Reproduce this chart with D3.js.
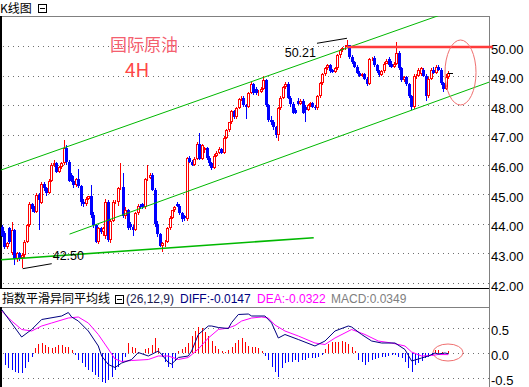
<!DOCTYPE html>
<html lang="zh">
<head>
<meta charset="UTF-8">
<title>国际原油 4H</title>
<script src="https://d3js.org/d3.v7.min.js"></script>
<style>
  body { margin: 0; background: #fff; }
  svg { display: block; font-family: "Liberation Sans", Arial, sans-serif; }
  .cjk { font-family: "Noto Sans CJK SC", sans-serif; }
</style>
</head>
<body>
<svg width="529" height="387"></svg>
<script>
// 4H candles: [open, high, low, close]
const candles = [
  [43.88,43.95,43.55,43.58],[43.70,43.75,43.15,43.22],[43.22,43.40,43.15,43.35],[43.84,43.88,43.30,43.37],
  [43.00,44.05,42.95,43.80],[43.80,43.82,42.62,42.80],[42.80,43.05,42.70,43.00],[43.00,43.05,42.75,42.85],
  [42.85,43.00,42.50,42.95],[42.95,43.45,42.85,43.40],[43.40,44.00,43.35,43.95],[43.95,44.75,43.90,44.65],
  [44.65,44.70,44.40,44.50],[44.52,44.60,44.35,44.40],[44.40,45.05,44.35,44.98],[44.98,45.05,43.80,44.80],
  [44.70,45.40,44.65,45.35],[45.35,45.40,45.10,45.20],[45.20,45.25,44.95,45.05],[45.05,45.50,45.00,45.45],
  [45.45,46.05,45.40,45.98],[45.98,46.15,45.90,46.05],[46.05,46.10,45.70,45.75],[45.75,45.95,45.70,45.90],
  [45.90,46.10,45.85,46.05],[46.05,46.82,46.00,46.55],[46.55,46.65,46.00,46.10],[46.10,46.15,45.40,45.45],
  [45.65,45.70,45.40,45.45],[45.45,45.60,45.20,45.30],[45.30,45.55,45.25,45.50],[45.50,45.85,45.20,45.28],
  [45.28,45.30,44.60,44.75],[44.75,44.85,44.55,44.65],[44.65,44.90,44.60,44.85],[44.85,44.95,44.80,44.92],
  [44.92,45.30,44.20,44.30],[44.30,44.40,43.85,43.95],[43.95,44.00,43.35,43.40],[43.40,43.90,43.30,43.85],
  [43.85,43.90,43.65,43.72],[43.72,43.90,43.60,43.85],[43.60,44.85,43.50,44.75],[44.75,44.80,43.40,43.45],
  [43.45,44.15,43.35,44.10],[44.10,44.80,44.05,44.75],[44.70,44.80,44.65,44.75],[44.75,45.25,44.60,45.20],
  [45.20,46.05,45.15,45.25],[45.25,45.70,44.20,44.25],[44.25,44.55,44.15,44.45],[44.45,44.50,43.80,43.85],
  [44.00,44.05,43.80,43.88],[43.88,43.95,43.60,43.80],[43.80,44.40,43.75,44.35],[44.35,44.65,44.30,44.60],
  [44.60,44.65,44.50,44.55],[44.65,44.70,44.50,44.55],[44.55,45.55,44.50,45.50],[45.50,45.97,45.45,45.56],
  [45.56,45.70,45.50,45.65],[45.65,45.70,45.10,45.15],[45.15,45.20,43.90,44.00],[44.00,44.10,43.55,43.65],
  [43.65,43.70,43.20,43.25],[43.25,43.40,43.04,43.35],[43.35,43.45,43.20,43.40],[43.40,43.88,43.35,43.84],
  [43.84,44.25,43.80,44.20],[44.20,44.48,44.15,44.45],[44.45,44.60,44.40,44.55],[44.65,44.75,44.55,44.60],
  [44.60,44.65,44.30,44.35],[44.35,44.40,44.05,44.15],[44.25,44.30,44.10,44.18],[44.15,46.25,44.10,46.22],
  [46.22,46.30,46.05,46.10],[46.10,46.15,45.95,46.00],[46.00,46.25,45.95,46.20],[46.20,46.75,46.15,46.70],
  [46.70,47.05,46.15,46.20],[46.20,46.70,46.15,46.65],[46.50,46.60,46.40,46.55],[46.55,46.60,46.15,46.22],
  [46.22,46.30,45.95,46.05],[46.05,46.10,45.80,45.88],[45.88,46.35,45.85,46.30],[46.30,46.45,46.25,46.40],
  [46.40,46.58,46.35,46.52],[46.52,46.55,46.35,46.40],[46.40,46.95,46.35,46.90],[46.90,47.20,46.85,47.15],
  [47.15,47.45,47.10,47.42],[47.42,47.85,47.38,47.80],[47.80,47.85,47.55,47.60],[47.60,47.95,47.55,47.92],
  [47.92,48.25,47.88,48.22],[48.22,48.30,48.15,48.25],[48.25,48.30,47.95,48.00],[48.00,48.05,47.55,47.95],
  [47.95,48.45,47.90,48.42],[48.42,48.80,48.38,48.72],[48.72,48.75,48.35,48.40],[48.55,48.60,48.35,48.40],
  [48.40,48.50,48.30,48.45],[48.45,48.60,48.40,48.55],[48.55,49.00,48.50,48.85],[48.85,48.90,47.95,48.00],
  [48.00,48.05,47.45,47.50],[47.50,47.65,47.35,47.42],[47.42,47.50,47.15,47.25],[47.25,47.30,46.90,46.98],
  [46.98,47.95,46.78,47.90],[47.90,48.30,47.85,48.25],[48.25,48.65,48.20,48.60],[48.60,48.78,48.55,48.72],
  [48.72,48.80,48.20,48.25],[48.25,48.30,47.95,48.05],[48.05,48.10,47.70,47.75],[47.85,47.90,47.70,47.75],
  [48.15,48.25,48.00,48.05],[48.05,48.20,48.00,48.15],[48.15,48.20,47.70,47.75],[47.95,48.00,47.45,47.85],
  [47.85,48.05,47.80,48.00],[48.00,48.10,47.95,48.08],[48.08,48.12,47.90,47.95],[47.95,48.00,47.85,47.90],
  [47.90,48.35,47.85,48.30],[48.30,48.78,48.25,48.75],[48.75,49.10,48.70,49.05],[49.05,49.30,49.00,49.25],
  [49.25,49.40,49.20,49.35],[49.35,49.38,49.10,49.15],[49.18,49.22,49.10,49.12],[49.12,49.30,49.08,49.25],
  [49.25,49.72,49.20,49.68],[49.68,49.90,49.60,49.85],[49.85,49.95,49.80,49.92],[49.92,50.02,49.88,49.98],
  [49.98,50.21,49.95,50.02],[50.02,50.05,49.55,49.62],[49.62,49.68,49.40,49.45],[49.45,49.50,49.25,49.30],
  [49.30,49.35,49.05,49.10],[49.10,49.15,48.95,49.00],[49.00,49.08,48.95,49.05],[49.05,49.08,48.85,48.90],
  [48.90,48.95,48.65,48.72],[48.72,49.60,48.70,49.55],[49.55,49.62,49.48,49.58],[49.60,49.65,49.30,49.35],
  [49.35,49.40,49.10,49.15],[49.15,49.20,48.95,49.02],[49.02,49.18,48.98,49.15],[49.15,49.45,49.10,49.40],
  [49.40,49.55,49.38,49.48],[49.55,49.62,49.30,49.35],[49.40,49.50,49.25,49.30],[49.30,49.45,49.25,49.40],
  [49.40,50.13,49.35,49.78],[49.78,49.82,49.20,49.25],[49.25,49.30,48.80,48.85],[48.85,49.00,48.80,48.95],
  [48.95,49.00,48.65,48.72],[48.72,48.75,48.25,48.30],[48.30,48.35,47.85,47.95],[47.95,49.05,47.88,49.00],
  [48.95,49.05,48.90,49.00],[49.00,49.25,48.95,49.20],[49.05,49.30,49.00,49.25],[49.20,49.25,48.95,49.00],
  [49.00,49.05,48.15,48.30],[48.30,48.95,48.25,48.90],[48.90,49.25,48.85,49.20],[49.20,49.30,49.05,49.10],
  [49.10,49.35,49.05,49.30],[49.30,49.35,49.15,49.20],[49.20,49.25,48.70,48.75],[48.75,48.80,48.45,48.55],
  [48.55,49.05,48.50,48.95],[48.95,49.15,48.90,49.08]
];
const priceTicks = [42, 43, 44, 45, 46, 47, 48, 49, 50];

// MACD histogram, one bar each
const macdHist = [
  -0.23,-0.30,-0.33,-0.37,-0.40,-0.40,-0.30,-0.17,-0.07,
  0.10,0.18,0.20,0.17,0.13,0.10,0.13,0.17,0.17,0.13,0.13,0.07,
  -0.03,-0.13,-0.20,-0.27,-0.33,-0.37,-0.43,-0.47,-0.57,-0.60,-0.53,-0.47,-0.33,-0.27,-0.17,-0.07,
  0.20,0.13,0.10,0.03,0.01,0.08,0.10,0.17,0.31,0.10,
  -0.07,-0.17,-0.27,-0.30,-0.15,
  0.05,0.08,0.12,0.20,0.35,0.45,0.52,0.50,0.43,0.35,0.25,0.15,0.08,0.05,0.03,
  0.07,0.13,0.20,0.27,0.30,0.23,0.15,0.12,0.12,0.10,0.05,
  -0.05,
  -0.13,-0.27,-0.37,-0.47,-0.30,-0.20,-0.17,-0.17,-0.13,-0.17,-0.13,-0.13,-0.10,-0.10,-0.10,-0.07,-0.03,
  0.08,0.18,0.22,0.23,0.23,0.25,0.22,0.18,0.13,0.05,
  -0.13,-0.17,-0.23,-0.17,-0.13,-0.11,-0.10,-0.07,-0.07,-0.05,-0.03,-0.03,-0.07,-0.10,
  -0.17,-0.30,-0.37,-0.23,-0.20,-0.15,-0.10,-0.07,-0.04,
  0.07,0.07,0.03,0.01,0.035
];
// [bar index, value]
const diffPts = [
  [-1,0.87],[5,0.32],[8,0.47],[11,0.67],[17,0.74],[19,0.81],[20,0.72],[22,0.64],[25,0.44],[28,0.14],
  [29,-0.06],[31,-0.23],[33,-0.29],[35,-0.20],[38,-0.13],[40,0.01],[43,-0.06],[46,0.04],[47,-0.03],
  [49,-0.19],[50,-0.22],[52,-0.09],[55,-0.06],[56,0.04],[58,0.37],[61,0.54],[62,0.54],[64,0.51],
  [67,0.49],[68,0.61],[70,0.77],[73,0.78],[74,0.74],[78,0.74],[80,0.60],[82,0.30],[84,0.37],[88,0.27],
  [93,0.14],[96,0.24],[99,0.44],[103,0.54],[104,0.52],[107,0.37],[110,0.24],[113,0.20],[117,0.20],
  [120,0.07],[122,-0.16],[125,-0.10],[127,-0.06],[129,0.00],[130,-0.02],[132,0.00],[133,-0.0147]
];
const deaPts = [
  [-1,0.84],[2,0.64],[5,0.47],[8,0.44],[11,0.54],[14,0.60],[19,0.70],[22,0.72],[25,0.60],[28,0.37],
  [31,0.08],[33,-0.12],[35,-0.17],[38,-0.15],[43,-0.13],[46,-0.06],[49,-0.06],[52,-0.13],[55,-0.09],
  [58,0.08],[61,0.30],[64,0.47],[67,0.50],[69,0.55],[71,0.64],[74,0.70],[77,0.72],[79,0.70],[81,0.56],
  [84,0.44],[88,0.34],[93,0.20],[96,0.17],[99,0.30],[104,0.47],[108,0.37],[112,0.24],[116,0.20],
  [120,0.14],[122,0.02],[125,-0.06],[128,-0.05],[130,-0.03],[133,-0.0322]
];
const macdTicks = [0.5, 0.0, -0.5];

// trend lines: [candle index, price]
const upperChannel = [[-1.2, 45.79], [178, 51.05]];
const lowerChannel = [[27.4, 43.65], [199, 48.82]];
const supportLine = [[-1.2, 42.78], [126.5, 43.53]];
const resistStart = 140, resistPrice = 50.0;

const svg = d3.select("svg");
const axisX = 489, mainTop = 16, mainBot = 288, macdTop = 307;

const x = d3.scaleLinear().domain([0, candles.length - 1]).range([2, 448]);
const y = d3.scaleLinear().domain([42, 50]).range([283, 46]);
const xh = d3.scaleLinear().domain([0, macdHist.length - 1]).range([5, 448.3]);
const ym = d3.scaleLinear().domain([-0.5, 0.5]).range([378, 328]);

const RED = "#ff0000", BLUE = "#0000ff", GREEN = "#00b800";

svg.append("defs").append("clipPath").attr("id", "mainClip")
  .append("rect").attr("x", 1).attr("y", mainTop).attr("width", axisX - 1).attr("height", mainBot - mainTop);
svg.select("defs").append("clipPath").attr("id", "macdClip")
  .append("rect").attr("x", 1).attr("y", macdTop).attr("width", axisX - 1).attr("height", 387 - macdTop);

// frame
const frame = svg.append("g").attr("shape-rendering", "crispEdges");
frame.append("line").attr("x1", 0).attr("x2", axisX).attr("y1", mainTop + 0.5).attr("y2", mainTop + 0.5)
  .attr("stroke", "#808080").attr("stroke-width", 1.5);
frame.append("line").attr("x1", axisX + 0.5).attr("x2", axisX + 0.5).attr("y1", mainTop).attr("y2", 387)
  .attr("stroke", "#808080");
frame.append("line").attr("x1", 1).attr("x2", 1).attr("y1", mainTop).attr("y2", mainBot)
  .attr("stroke", "#000").attr("stroke-width", 2);
frame.append("line").attr("x1", 0).attr("x2", axisX).attr("y1", mainBot + 0.5).attr("y2", mainBot + 0.5)
  .attr("stroke", "#000");
frame.append("line").attr("x1", 0).attr("x2", axisX).attr("y1", macdTop + 0.5).attr("y2", macdTop + 0.5)
  .attr("stroke", "#808080");
frame.append("line").attr("x1", 1).attr("x2", 1).attr("y1", macdTop).attr("y2", 387)
  .attr("stroke", "#000").attr("stroke-width", 2);

// grids
const grid = svg.append("g").attr("shape-rendering", "crispEdges")
  .attr("stroke", "#707070").attr("stroke-dasharray", "1,4");
grid.selectAll("line.p").data(priceTicks).join("line").attr("class", "p")
  .attr("x1", 3).attr("x2", axisX)
  .attr("y1", d => Math.round(y(d)) + 0.5).attr("y2", d => Math.round(y(d)) + 0.5);
grid.selectAll("line.m").data(macdTicks).join("line").attr("class", "m")
  .attr("x1", 3).attr("x2", axisX)
  .attr("y1", d => Math.round(ym(d)) + 0.5).attr("y2", d => Math.round(ym(d)) + 0.5);

// axis labels
svg.append("g").selectAll("text").data(priceTicks).join("text")
  .attr("x", axisX + 2).attr("y", d => y(d) + 7.5)
  .attr("font-size", 13).attr("fill", "#000")
  .text(d => d.toFixed(2));
svg.append("g").selectAll("text").data(macdTicks).join("text")
  .attr("x", axisX + 2).attr("y", d => ym(d) + 7)
  .attr("font-size", 13).attr("fill", "#000")
  .text(d => d.toFixed(1));

// candles
const cg = svg.append("g").attr("shape-rendering", "crispEdges").attr("clip-path", "url(#mainClip)");
candles.forEach((d, i) => {
  const [o, h, l, c] = d;
  const up = c >= o;
  const col = up ? RED : BLUE;
  const px = Math.round(x(i));
  cg.append("line").attr("x1", px + 0.5).attr("x2", px + 0.5)
    .attr("y1", y(h)).attr("y2", y(l)).attr("stroke", col);
  const top = Math.round(y(Math.max(o, c)));
  const bh = Math.max(1, Math.round(y(Math.min(o, c))) - top);
  if (up) {
    cg.append("rect").attr("x", px - 0.5).attr("y", top + 0.5)
      .attr("width", 2).attr("height", Math.max(bh - 1, 0))
      .attr("fill", "#fff").attr("stroke", col);
  } else {
    cg.append("rect").attr("x", px - 1).attr("y", top)
      .attr("width", 3).attr("height", bh).attr("fill", col);
  }
});

// trend lines
const tl = svg.append("g").attr("clip-path", "url(#mainClip)");
const lineXY = d3.line().x(d => x(d[0])).y(d => y(d[1]));
tl.append("path").attr("d", lineXY(upperChannel)).attr("stroke", GREEN).attr("fill", "none");
tl.append("path").attr("d", lineXY(lowerChannel)).attr("stroke", GREEN).attr("fill", "none");
tl.append("path").attr("d", lineXY(supportLine)).attr("stroke", GREEN).attr("stroke-width", 1.6).attr("fill", "none");
svg.append("line").attr("x1", x(resistStart)).attr("x2", axisX + 4)
  .attr("y1", y(resistPrice) + 1).attr("y2", y(resistPrice) + 1)
  .attr("stroke", "#ff3b3b").attr("stroke-width", 2.5);

// high / low marks
const hi = d3.maxIndex(candles, d => d[1]);
const lo = d3.minIndex(candles, d => d[2]);
const hx = x(hi), hy = y(candles[hi][1]);
const lx = x(lo), ly = y(candles[lo][2]);
svg.append("line").attr("x1", hx - 30).attr("y1", hy + 3.5).attr("x2", hx).attr("y2", hy - 1.5)
  .attr("stroke", "#000");
svg.append("text").attr("x", hx - 31).attr("y", hy + 17).attr("text-anchor", "end")
  .attr("font-size", 12.5).attr("fill", "#000").text(candles[hi][1].toFixed(2));
svg.append("line").attr("x1", lx + 1).attr("y1", ly + 0.5).attr("x2", lx + 30).attr("y2", ly - 4.5)
  .attr("stroke", "#000");
svg.append("text").attr("x", lx + 31).attr("y", ly - 8)
  .attr("font-size", 12.5).attr("fill", "#000").text(candles[lo][2].toFixed(2));

// last price tick
const last = candles[candles.length - 1];
svg.append("line").attr("x1", x(candles.length - 1)).attr("x2", x(candles.length - 1) + 5)
  .attr("y1", Math.round(y(last[3])) + 0.5).attr("y2", Math.round(y(last[3])) + 0.5)
  .attr("stroke", "#000").attr("shape-rendering", "crispEdges");

// marker ellipses
svg.append("ellipse").attr("cx", 460.5).attr("cy", 72.5).attr("rx", 15.5).attr("ry", 32.5)
  .attr("fill", "none").attr("stroke", "#f07070");
svg.append("ellipse").attr("cx", 448).attr("cy", 352.5).attr("rx", 15).attr("ry", 8.5)
  .attr("fill", "none").attr("stroke", "#f07070");

// MACD
const mg = svg.append("g").attr("clip-path", "url(#macdClip)");
mg.append("g").attr("shape-rendering", "crispEdges").selectAll("line").data(macdHist).join("line")
  .attr("x1", (d, i) => Math.round(xh(i)) + 0.5).attr("x2", (d, i) => Math.round(xh(i)) + 0.5)
  .attr("y1", ym(0)).attr("y2", d => ym(d))
  .attr("stroke", d => d >= 0 ? RED : BLUE);
const lineM = d3.line().x(d => xh(d[0])).y(d => ym(d[1]));
mg.append("path").attr("d", lineM(deaPts)).attr("fill", "none").attr("stroke", "#ff00ff");
mg.append("path").attr("d", lineM(diffPts)).attr("fill", "none").attr("stroke", "#000080");

// titles
svg.append("text").attr("class", "cjk").attr("x", 0).attr("y", 12.5).attr("font-size", 12)
  .attr("fill", "#000").text("K线图");
function boxIcon(bx, by) {
  const g = svg.append("g").attr("shape-rendering", "crispEdges");
  g.append("rect").attr("x", bx + 0.5).attr("y", by + 0.5).attr("width", 8).attr("height", 8)
    .attr("fill", "none").attr("stroke", "#000");
  g.append("line").attr("x1", bx + 2).attr("x2", bx + 7).attr("y1", by + 4.5).attr("y2", by + 4.5)
    .attr("stroke", "#000");
}
boxIcon(38, 4);

svg.append("text").attr("class", "cjk").attr("x", 110).attr("y", 51).attr("font-size", 17)
  .attr("fill", "#f4606f").text("国际原油");
svg.append("text").attr("class", "cjk").attr("x", 125).attr("y", 77).attr("font-size", 19)
  .attr("fill", "#ff4646").text("4H");

svg.append("text").attr("class", "cjk").attr("x", 2).attr("y", 303).attr("font-size", 12)
  .attr("fill", "#000").text("指数平滑异同平均线");
boxIcon(115, 295);
svg.append("text").attr("x", 126).attr("y", 303).attr("font-size", 12).attr("fill", "#1a1a50").text("(26,12,9)");
svg.append("text").attr("x", 180).attr("y", 303).attr("font-size", 12).attr("fill", "#000080").text("DIFF:-0.0147");
svg.append("text").attr("x", 257).attr("y", 303).attr("font-size", 12).attr("fill", "#ff00ff").text("DEA:-0.0322");
svg.append("text").attr("x", 331).attr("y", 303).attr("font-size", 12).attr("fill", "#808080").text("MACD:0.0349");
</script>
</body>
</html>
